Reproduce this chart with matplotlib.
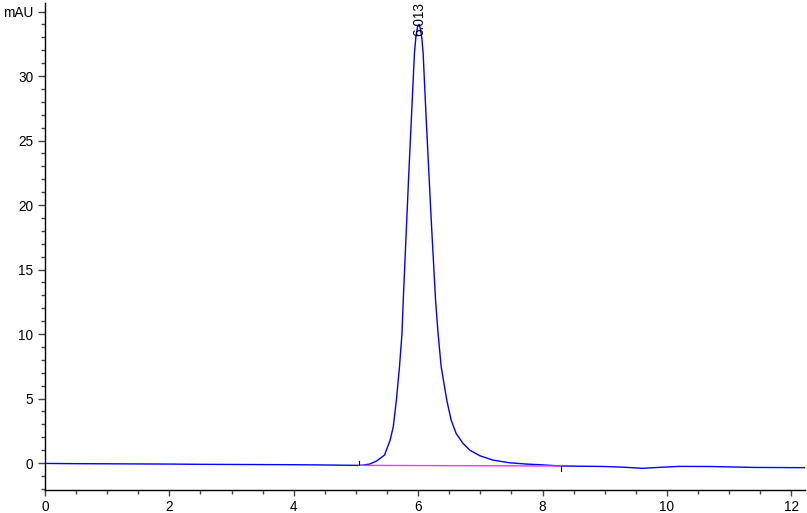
import matplotlib
matplotlib.use("Agg")
import matplotlib.pyplot as plt
from matplotlib.ticker import MultipleLocator

# Chromatogram trace (time in min, signal in mAU)
time = [0.0, 0.5, 1.0, 1.5, 2.0, 2.5, 3.0, 3.5, 4.0, 4.5, 5.0, 5.1, 5.22, 5.33,
        5.46, 5.55, 5.60, 5.65, 5.70, 5.74, 5.76, 5.80, 5.85, 5.89, 5.94, 5.965,
        5.99, 6.013, 6.035, 6.06, 6.08, 6.13, 6.21, 6.28, 6.32, 6.37, 6.46, 6.53,
        6.61, 6.72, 6.83, 6.99, 7.20, 7.47, 7.74, 7.95, 8.3, 8.7, 9.0, 9.3, 9.6,
        9.9, 10.2, 10.7, 11.0, 11.4, 11.8, 12.22]
signal = [-0.03, -0.05, -0.06, -0.07, -0.08, -0.10, -0.11, -0.12, -0.13, -0.15,
          -0.18, -0.17, -0.08, 0.15, 0.62, 1.78, 2.82, 4.88, 7.47, 10.05, 12.6,
          17.0, 22.5, 26.6, 31.76, 33.1, 33.8, 34.0, 33.7, 32.9, 31.76, 26.6,
          18.84, 12.6, 10.05, 7.47, 4.88, 3.33, 2.30, 1.53, 1.0, 0.57, 0.23,
          0.02, -0.08, -0.13, -0.23, -0.25, -0.27, -0.32, -0.41, -0.33, -0.26,
          -0.27, -0.30, -0.34, -0.35, -0.36]

# Integration baseline of the peak
base_time = [5.05, 8.30]
base_signal = [-0.18, -0.23]

peak_rt = 6.013
label_y = 33.1
peak_label = "6.013"

xticks = [0, 2, 4, 6, 8, 10, 12]
yticks = [0, 5, 10, 15, 20, 25, 30, 35]
ytick_labels = ["0", "5", "10", "15", "20", "25", "30", "mAU"]

plt.rcParams['font.family'] = ['Liberation Sans', 'DejaVu Sans']

fig = plt.figure(figsize=(8.07, 5.13), dpi=100)
ax = fig.add_axes([45 / 807, 23 / 513, 760 / 807, 487 / 513])

ax.plot(time, signal, color="#0000ff", lw=1.0, solid_joinstyle="round")
ax.plot(base_time, base_signal, color="#ff33ff", lw=1.0)
# baseline start/end markers
ax.plot([base_time[0], base_time[0]], [base_signal[0], base_signal[0] + 0.35], color="black", lw=0.8)
ax.plot([base_time[1], base_time[1]], [base_signal[1], base_signal[1] - 0.35], color="black", lw=0.8)

ax.text(peak_rt, label_y, peak_label, rotation=90, ha="center", va="bottom",
        fontsize=9.8, color="black")

ax.set_xlim(0, 12.22)
ax.set_ylim(-2.09, 35.66)
ax.set_xticks(xticks)
ax.set_yticks(yticks)
ax.set_yticklabels(ytick_labels)
ax.xaxis.set_minor_locator(MultipleLocator(0.5))
ax.yaxis.set_minor_locator(MultipleLocator(1))

for s in ["top", "right"]:
    ax.spines[s].set_visible(False)
for s in ["left", "bottom"]:
    ax.spines[s].set_linewidth(1.0)
    ax.spines[s].set_color("black")

ax.tick_params(axis="y", which="major", length=5, width=1, color="#444444",
               labelsize=9.8, pad=3.5, direction="out")
ax.tick_params(axis="x", which="major", length=4.5, width=1, color="#444444",
               labelsize=9.8, pad=3, direction="out")
ax.tick_params(axis="both", which="minor", length=2.8, width=1, color="#444444",
               direction="out")

fig.savefig("out.png", dpi=100)
